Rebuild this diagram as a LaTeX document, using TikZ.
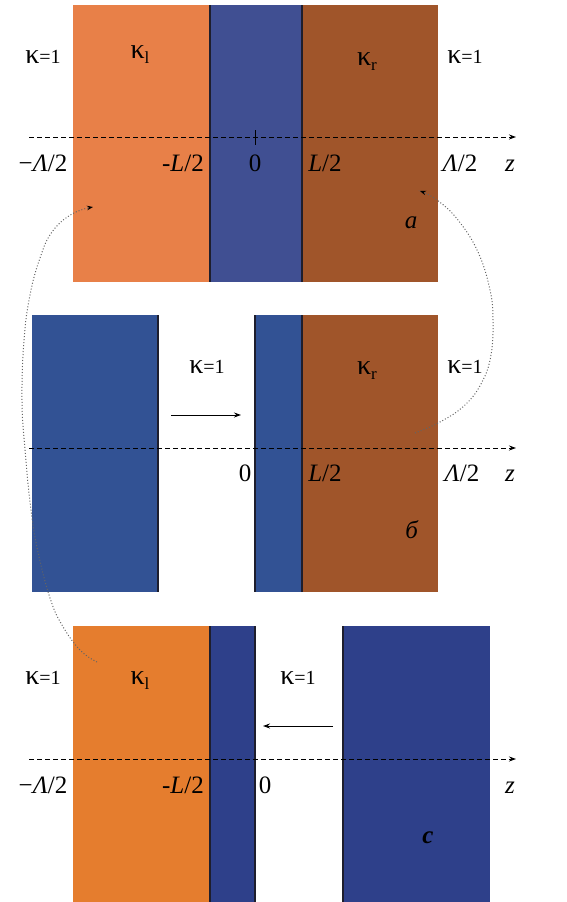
\documentclass[tikz,border=0pt]{standalone}
\usepackage{fontspec}
\setmainfont{Liberation Serif}
\usetikzlibrary{arrows.meta}
\definecolor{orangeA}{RGB}{232,128,72}
\definecolor{blueA}{RGB}{64,79,146}
\definecolor{brownA}{RGB}{160,85,42}
\definecolor{blueB}{RGB}{50,82,148}
\definecolor{orangeC}{RGB}{229,125,46}
\definecolor{blueC}{RGB}{46,64,138}
\definecolor{edge}{RGB}{30,30,45}
\definecolor{linkc}{RGB}{100,100,100}
\newcommand{\kp}{{\fontsize{28}{30}\selectfont κ}}
\newcommand{\sbl}[1]{\raisebox{-5pt}{\fontsize{17}{17}\selectfont #1}}
\tikzset{
  kap/.style={anchor=base,font=\fontsize{20}{24}\selectfont},
  axl/.style={anchor=base,font=\fontsize{25}{30}\selectfont},
  axis/.style={dashed,dash pattern=on 5pt off 3pt,line width=0.9pt,-{Stealth[length=7pt,width=5pt]}},
  bord/.style={edge,line width=1.3pt},
  move/.style={line width=1pt,-{Stealth[length=7pt,width=5pt]}},
  link/.style={linkc,dash pattern=on 1pt off 2pt,line width=1pt,-{Stealth[length=6pt,width=4.5pt,black]}}
}
\begin{document}
\begin{tikzpicture}[x=1pt,y=-1pt]
\useasboundingbox (0,0) rectangle (567,902);
% ---------- panel a ----------
\fill[orangeA] (73,5) rectangle (210,282);
\fill[blueA] (210,5) rectangle (302,282);
\fill[brownA] (302,5) rectangle (438,282);
\draw[bord] (210,5) -- (210,282);
\draw[bord] (302,5) -- (302,282);
\coordinate (a0) at (29,137); \coordinate (a1) at (516,137);
\draw[axis] (a0) -- (a1);
\draw[line width=1pt] (255,130) -- (255,145);
\node[kap] at (43,63) {\kp=1};
\node[kap] at (140,58) {\kp\sbl{l}};
\node[kap] at (367,65) {\kp\sbl{r}};
\node[kap] at (465,63) {\kp=1};
\node[axl] at (43,171) {−\textit{Λ}/2};
\node[axl] at (183,171) {-\textit{L}/2};
\node[axl] at (255,171) {0};
\node[axl] at (325,171) {\textit{L}/2};
\node[axl] at (460,171) {\textit{Λ}/2};
\node[axl] at (510,171) {\textit{z}};
\node[axl] at (411,228) {\textit{a}};
% ---------- panel b ----------
\fill[blueB] (32,315) rectangle (158,592);
\fill[blueB] (255,315) rectangle (302,592);
\fill[brownA] (302,315) rectangle (438,592);
\draw[bord] (158,315) -- (158,592);
\draw[bord] (255,315) -- (255,592);
\draw[bord] (302,315) -- (302,592);
\coordinate (b0) at (29,448); \coordinate (b1) at (516,448);
\draw[axis] (b0) -- (b1);
\coordinate (bm0) at (171,415); \coordinate (bm1) at (241,415);
\draw[move] (bm0) -- (bm1);
\node[kap] at (207,373) {\kp=1};
\node[kap] at (367,374) {\kp\sbl{r}};
\node[kap] at (465,373) {\kp=1};
\node[axl] at (245,481) {0};
\node[axl] at (325,481) {\textit{L}/2};
\node[axl] at (462,481) {\textit{Λ}/2};
\node[axl] at (510,481) {\textit{z}};
\node[axl] at (412,538) {\textit{б}};
% ---------- panel c ----------
\fill[orangeC] (73,626) rectangle (210,902);
\fill[blueC] (210,626) rectangle (255,902);
\fill[blueC] (343,626) rectangle (490,902);
\draw[bord] (210,626) -- (210,902);
\draw[bord] (255,626) -- (255,902);
\draw[bord] (343,626) -- (343,902);
\coordinate (c0) at (29,759); \coordinate (c1) at (516,759);
\draw[axis] (c0) -- (c1);
\coordinate (cm0) at (333,726); \coordinate (cm1) at (263,726);
\draw[move] (cm0) -- (cm1);
\node[kap] at (43,684) {\kp=1};
\node[kap] at (140,684) {\kp\sbl{l}};
\node[kap] at (298,684) {\kp=1};
\node[axl] at (43,793) {−\textit{Λ}/2};
\node[axl] at (183,793) {-\textit{L}/2};
\node[axl] at (265,793) {0};
\node[axl] at (510,793) {\textit{z}};
\node[axl] at (428,843) {\textbf{\textit{c}}};
% ---------- dotted links ----------
\draw[link] plot[smooth,tension=0.7] coordinates {(97,662) (80,650) (62,625) (50,598) (38,552) (31,510) (25,450) (22,400) (24,340) (30,295) (40,258) (52,232) (72,214) (93,207)};
\draw[link] plot[smooth,tension=0.7] coordinates {(415,433) (440,422) (465,405) (482,382) (491,355) (493,320) (490,290) (478,252) (458,220) (437,200) (420,191)};
\end{tikzpicture}
\end{document}
